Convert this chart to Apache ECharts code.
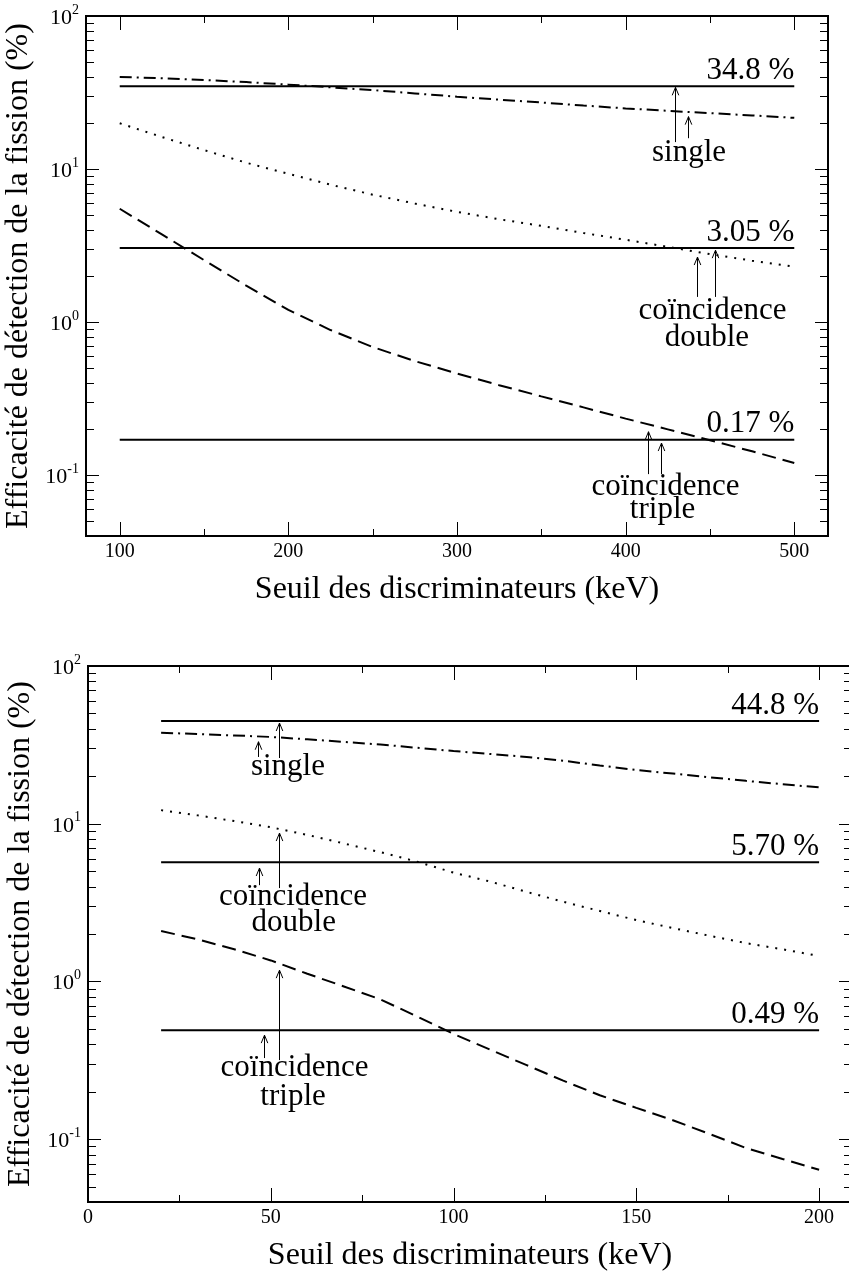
<!DOCTYPE html>
<html><head><meta charset="utf-8">
<script src="https://cdn.jsdelivr.net/npm/echarts@6/dist/echarts.min.js"></script>
<style>html,body{margin:0;padding:0;background:#fff}#c{width:849px;height:1278px}</style>
</head><body><div id="c"></div><script>
// ---------- data : top panel ----------
const xTop = [100,125,150,175,200,225,250,275,300,325,350,375,400,425,450,475,500];
const singleTop = [40.0,39.2,38.2,37.0,35.6,34.2,32.8,31.2,29.7,28.4,27.2,26.0,24.9,24.0,23.2,22.4,21.6];
const doubleTop = [19.9,16.2,13.3,11.0,9.3,7.9,6.8,5.95,5.25,4.7,4.25,3.82,3.45,3.1,2.78,2.52,2.3];
const tripleTop = [5.5,3.74,2.54,1.73,1.2,0.887,0.687,0.556,0.461,0.387,0.327,0.277,0.234,0.199,0.169,0.143,0.12];
const levelsTop = [34.8, 3.05, 0.17];
const levelTextTop = ['34.8 %', '3.05 %', '0.17 %'];
const levelRangeTop = [100, 500];
const arrowsTop = [[429.3,15.0,34.2],[437.0,15.9,22.0],[453.0,1.46,2.95],[442.1,1.46,2.66],[413.1,0.1015,0.192],[421.0,0.1015,0.162]];
const notesTopPos = [[437.6,12.72],[451.5,1.186],[448.2,0.786],[423.7,0.0839],[421.9,0.059]];
const notesTopText = ['single','coïncidence','double','coïncidence','triple'];
const xTickLabelsTop = [100,200,300,400,500];
const xMinorTop = [150,250,350,450];

// ---------- data : bottom panel ----------
const xBot = [20,30,40,50,60,70,80,90,100,110,120,130,140,150,160,170,180,190,200];
const singleBot = [37.8,37.0,36.3,35.5,34.3,33.0,31.8,30.3,28.9,27.7,26.5,25.1,23.4,21.9,20.8,19.7,18.7,17.8,17.0];
const doubleBot = [12.2,11.3,10.4,9.5,8.5,7.5,6.6,5.75,4.9,4.3,3.7,3.2,2.8,2.45,2.18,1.95,1.75,1.6,1.45];
const tripleBot = [2.09,1.85,1.6,1.36,1.12,0.93,0.77,0.6,0.465,0.37,0.295,0.235,0.19,0.158,0.132,0.108,0.088,0.075,0.064];
const levelsBot = [44.8, 5.70, 0.49];
const levelTextBot = ['44.8 %', '5.70 %', '0.49 %'];
const levelRangeBot = [20, 200];
const arrowsBot = [[52.3,26.1,43.5],[46.5,26.5,33.1],[52.2,3.91,8.73],[46.7,4.08,5.24],[52.2,0.3175,1.18],[48.1,0.327,0.457]];
const notesBotPos = [[54.7,22.88],[56.1,3.43],[56.3,2.346],[56.5,0.2825],[56.1,0.185]];
const notesBotText = ['single','coïncidence','double','coïncidence','triple'];
const xTickLabelsBot = [0,50,100,150,200];
const xMinorBot = [25,75,125,175];

// ---------- shared ticks ----------
const yMajor = [0.1,1,10,100];
const yMinor = [0.05,0.06,0.07,0.08,0.09,0.2,0.3,0.4,0.5,0.6,0.7,0.8,0.9,2,3,4,5,6,7,8,9,20,30,40,50,60,70,80,90];
const yTitle = 'Efficacité de détection de la fission (%)';
const xTitle = 'Seuil des discriminateurs (keV)';

// ---------- helpers ----------
const F = "'Liberation Serif','Times New Roman',serif";
const BLACK = '#000';
const Y_MIN = 0.04, Y_MAX = 100;
const NOTE_SIZE = 31;

function pairs(xs, ys){ return xs.map((x,i)=>[x, ys[i]]); }

function curve(name, xi, xs, ys, dash){
  return { name, type:'line', xAxisIndex:xi, yAxisIndex:xi, data:pairs(xs,ys),
    symbol:'none', silent:true, z:3,
    lineStyle:{color:BLACK, width:2, type:dash, cap:'butt'} };
}
function level(xi, v, txt, range){
  return { type:'line', xAxisIndex:xi, yAxisIndex:xi, symbol:'circle', symbolSize:0, showSymbol:true,
    silent:true, z:4, lineStyle:{color:BLACK, width:2, type:'solid'},
    label:{show:false},
    data:[ [range[0], v], { value:[range[1], v], label:{ show:true, position:'top', align:'right',
      distance:0, formatter:txt, fontFamily:F, fontSize:NOTE_SIZE, color:BLACK } } ] };
}
function ticks(xi, xMaj, xMin, xmin, xmax){
  const d = [];
  xMaj.forEach(v=>d.push([v,1])); xMin.forEach(v=>d.push([v,2]));
  yMajor.forEach(v=>d.push([v,3])); yMinor.forEach(v=>d.push([v,4]));
  return { type:'custom', xAxisIndex:xi, yAxisIndex:xi, silent:true, z:5, data:d,
    renderItem:(params, api)=>{
      const v = api.value(0), k = api.value(1);
      const st = {stroke:BLACK, lineWidth:1};
      if (k === 1 || k === 2){
        const len = k === 1 ? 14 : 7;
        const b = api.coord([v, Y_MIN]), t = api.coord([v, Y_MAX]);
        const x = Math.round(b[0]) + 0.5;
        return {type:'group', children:[
          {type:'line', shape:{x1:x, y1:b[1], x2:x, y2:b[1]-len}, style:st},
          {type:'line', shape:{x1:x, y1:t[1], x2:x, y2:t[1]+len}, style:st}]};
      } else {
        const len = k === 3 ? 13 : 8;
        const l = api.coord([xmin, v]), r = api.coord([xmax, v]);
        const y = Math.round(l[1]) + 0.5;
        return {type:'group', children:[
          {type:'line', shape:{x1:l[0], y1:y, x2:l[0]+len, y2:y}, style:st},
          {type:'line', shape:{x1:r[0], y1:y, x2:r[0]-len, y2:y}, style:st}]};
      }
    } };
}
function arrows(xi, arr){
  return { type:'custom', xAxisIndex:xi, yAxisIndex:xi, silent:true, z:6, data:arr,
    renderItem:(params, api)=>{
      const a = api.coord([api.value(0), api.value(1)]);
      const b = api.coord([api.value(0), api.value(2)]);
      const x = Math.round(a[0]) + 0.5;
      const st = {stroke:BLACK, lineWidth:1, fill:null};
      return {type:'group', children:[
        {type:'line', shape:{x1:x, y1:a[1], x2:x, y2:b[1]}, style:st},
        {type:'polyline', shape:{points:[[x-3.3, b[1]+8],[x, b[1]],[x+3.3, b[1]+8]]}, style:st}]};
    } };
}
function notes(xi, pos, txt){
  return { type:'custom', xAxisIndex:xi, yAxisIndex:xi, silent:true, z:6, data:pos,
    renderItem:(params, api)=>{
      const p = api.coord([api.value(0), api.value(1)]);
      return {type:'text', x:p[0], y:p[1], style:{text:txt[params.dataIndex], fontFamily:F, fontSize:NOTE_SIZE,
        fill:BLACK, align:'center', verticalAlign:'middle'}};
    } };
}
function xAxis(gi, min, max, interval, labels){
  return { type:'value', gridIndex:gi, min, max, interval,
    axisLine:{show:false}, axisTick:{show:false}, splitLine:{show:false},
    axisLabel:{ formatter:v => labels.includes(v) ? String(v) : '', fontFamily:F, fontSize:20, color:BLACK, margin:6 },
    name:xTitle, nameLocation:'middle', nameGap:38,
    nameTextStyle:{fontFamily:F, fontSize:32, color:BLACK} };
}
function yAxis(gi){
  return { type:'log', logBase:10, gridIndex:gi, min:Y_MIN, max:Y_MAX,
    axisLine:{show:false}, axisTick:{show:false}, splitLine:{show:false},
    axisLabel:{ margin:7,
      formatter:v => { const l = Math.log10(v), e = Math.round(l);
        return Math.abs(l-e) > 1e-6 ? '' : '{b|10}{s|' + e + '}'; },
      rich:{ b:{fontFamily:F, fontSize:22, color:BLACK, lineHeight:26, verticalAlign:'bottom'},
             s:{fontFamily:F, fontSize:14, color:BLACK, lineHeight:14, verticalAlign:'top'} } },
    name:yTitle, nameLocation:'middle', nameGap:42,
    nameTextStyle:{fontFamily:F, fontSize:32, color:BLACK} };
}

const chart = echarts.init(document.getElementById('c'), null, {renderer:'canvas'});
chart.setOption({
  backgroundColor:'#fff',
  animation:false,
  grid:[
    {left:86, top:16, width:742, height:520, show:true, borderColor:BLACK, borderWidth:2,
     backgroundColor:'transparent', containLabel:false, outerBoundsMode:'none'},
    {left:88, top:666, width:764, height:536, show:true, borderColor:BLACK, borderWidth:2,
     backgroundColor:'transparent', containLabel:false, outerBoundsMode:'none'}
  ],
  xAxis:[ xAxis(0, 80, 520, 20, xTickLabelsTop), xAxis(1, 0, 209, 25, xTickLabelsBot) ],
  yAxis:[ yAxis(0), yAxis(1) ],
  series:[
    curve('single', 0, xTop, singleTop, [12,5,2,5]),
    curve('double', 0, xTop, doubleTop, [2,7]),
    curve('triple', 0, xTop, tripleTop, [14,7]),
    ...levelsTop.map((v,i)=>level(0, v, levelTextTop[i], levelRangeTop)),
    ticks(0, xTickLabelsTop, xMinorTop, 80, 520),
    arrows(0, arrowsTop),
    notes(0, notesTopPos, notesTopText),
    curve('single', 1, xBot, singleBot, [12,5,2,5]),
    curve('double', 1, xBot, doubleBot, [2,7]),
    curve('triple', 1, xBot, tripleBot, [14,7]),
    ...levelsBot.map((v,i)=>level(1, v, levelTextBot[i], levelRangeBot)),
    ticks(1, xTickLabelsBot, xMinorBot, 0, 209),
    arrows(1, arrowsBot),
    notes(1, notesBotPos, notesBotText)
  ]
});
</script></body></html>
